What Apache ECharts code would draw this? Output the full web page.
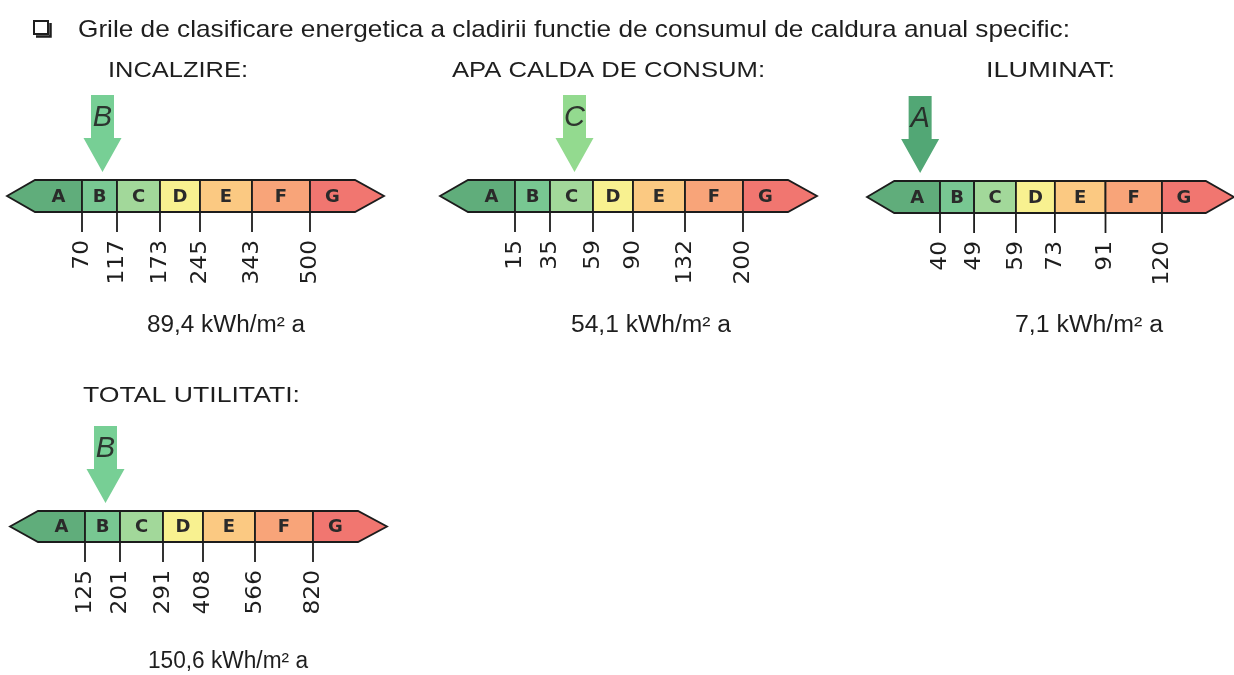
<!DOCTYPE html>
<html><head><meta charset="utf-8">
<script src="https://cdn.jsdelivr.net/npm/echarts@6/dist/echarts.min.js"></script>
<style>html,body{margin:0;padding:0;background:#fff}#c{width:1234px;height:675px}</style>
</head><body><div id="c"></div><script>
// ---------------- DATA ----------------
const heading = 'Grile de clasificare energetica a cladirii functie de consumul de caldura anual specific:';
const panelTitles = ['INCALZIRE:', 'APA CALDA DE CONSUM:', 'ILUMINAT:', 'TOTAL UTILITATI:'];
const classes = ['A', 'B', 'C', 'D', 'E', 'F', 'G'];
const thrIncalzire = [70, 117, 173, 245, 343, 500];
const thrApaCalda = [15, 35, 59, 90, 132, 200];
const thrIluminat = [40, 49, 59, 73, 91, 120];
const thrTotal = [125, 201, 291, 408, 566, 820];
const consumption = [89.4, 54.1, 7.1, 150.6];
const unitLabel = 'kWh/m² a';

// ---------------- LAYOUT / STYLE ----------------
const thresholds = [thrIncalzire, thrApaCalda, thrIluminat, thrTotal];
// positions along the bar (layout units = px): tip, head start, A|B ... F|G, tail start, tip
const BOUNDS = [0, 28, 75, 110, 153, 193, 245, 303, 348, 377];
const PANELS = [
  { left: 7,   top: 180, h: 32, title: [108, 248, 71], val: [147, 305, 326] },
  { left: 440, top: 180, h: 32, title: [452, 765, 71], val: [571, 731, 326] },
  { left: 867, top: 181, h: 32, title: [986, 1115, 71], val: [1015, 1163, 326] },
  { left: 10,  top: 511, h: 31, title: [83, 300, 396], val: [148, 308, 662] }
];
const segColors = ['#60ad7b', '#78c792', '#a2d89a', '#f8f190', '#fbc982', '#f8a479', '#f17670'];
const arrowColors = ['#52a775', '#77cf95', '#93da8f', '#f8f190', '#fbc982', '#f8a479', '#f17670'];
const LINE = '#1c1c1c';

const mctx = document.createElement('canvas').getContext('2d');
function fitText(text, x0, x1, y, font, color) {
  mctx.font = font;
  const w = mctx.measureText(text).width;
  return {
    type: 'text', x: x0, y: y, scaleX: (x1 - x0) / w, silent: true,
    style: { text: text, font: font, fill: color, align: 'left', textAlign: 'left', verticalAlign: 'middle', textVerticalAlign: 'middle' }
  };
}
function fmt(v) { return String(v).replace('.', ','); }
function classOf(pi) {
  const t = thresholds[pi];
  const v = consumption[pi];
  let idx = t.findIndex(x => v <= x);
  return idx < 0 ? classes.length - 1 : idx;
}

function segRender(pi) {
  return function (params, api) {
    const i = api.value(0);
    const P = (u, v) => api.coord([u, v]);
    const xl = BOUNDS[i + 1], xr = BOUNDS[i + 2];
    let pts;
    if (i === 0) {
      pts = [P(BOUNDS[0], 0.5), P(xl, 1), P(xr, 1), P(xr, 0), P(xl, 0)];
    } else if (i === classes.length - 1) {
      pts = [P(xl, 1), P(BOUNDS[8], 1), P(BOUNDS[9], 0.5), P(BOUNDS[8], 0), P(xl, 0)];
    } else {
      pts = [P(xl, 1), P(xr, 1), P(xr, 0), P(xl, 0)];
    }
    const children = [{
      type: 'polygon', shape: { points: pts },
      style: { fill: segColors[i], stroke: LINE, lineWidth: 1.8 }
    }];
    const c = P((xl + xr) / 2, 0.5);
    children.push({
      type: 'text', x: c[0], y: c[1] + 1,
      style: { text: classes[i], font: 'bold 18px "DejaVu Sans"', fill: '#2a2a2a',
        align: 'center', textAlign: 'center', verticalAlign: 'middle', textVerticalAlign: 'middle' }
    });
    if (i < classes.length - 1) {
      const b = P(xr, 0);
      children.push({
        type: 'line', shape: { x1: b[0], y1: b[1], x2: b[0], y2: b[1] + 20 },
        style: { stroke: LINE, lineWidth: 1.8 }
      });
      children.push({
        type: 'text', x: b[0], y: b[1] + 28, rotation: Math.PI / 2, scaleX: 1.06,
        style: { text: String(thresholds[pi][i]), font: '22px "DejaVu Sans"', fill: '#1e1e1e',
          align: 'right', textAlign: 'right', verticalAlign: 'middle', textVerticalAlign: 'middle' }
      });
    }
    return { type: 'group', children: children };
  };
}

function arrowRender(pi) {
  return function (params, api) {
    const cls = classOf(pi);
    const top = api.coord([(BOUNDS[cls + 1] + BOUNDS[cls + 2]) / 2, 1]);
    const cx = top[0] + 3;
    const tipY = top[1] - 8;
    const headTop = tipY - 34;
    const bodyTop = headTop - 43;
    return {
      type: 'group', children: [
        {
          type: 'polygon',
          shape: { points: [[cx - 11.5, bodyTop], [cx + 11.5, bodyTop], [cx + 11.5, headTop], [cx + 19, headTop],
            [cx, tipY], [cx - 19, headTop], [cx - 11.5, headTop]] },
          style: { fill: arrowColors[cls] }
        },
        {
          type: 'text', x: cx, y: bodyTop + 23,
          style: { text: classes[cls], font: 'italic 29px "Liberation Sans"', fill: 'rgba(35,35,35,0.9)',
            align: 'center', textAlign: 'center', verticalAlign: 'middle', textVerticalAlign: 'middle' }
        }
      ]
    };
  };
}

const grids = [], xAxes = [], yAxes = [], series = [];
const graphics = [];
// checkbox symbol
graphics.push({ type: 'rect', shape: { x: 34, y: 21, width: 14, height: 13 }, style: { fill: '#fff', stroke: '#1e1e1e', lineWidth: 2 } });
graphics.push({ type: 'polyline', shape: { points: [[36, 36.5], [50.5, 36.5], [50.5, 23]] }, style: { fill: 'none', stroke: '#1e1e1e', lineWidth: 2.5 } });
graphics.push(fitText(heading, 78, 1070, 30, '24px "Liberation Sans"', '#1e1e1e'));

PANELS.forEach((p, pi) => {
  grids.push({ left: p.left, top: p.top, width: BOUNDS[BOUNDS.length - 1], height: p.h, containLabel: false });
  xAxes.push({ type: 'value', gridIndex: pi, min: 0, max: BOUNDS[BOUNDS.length - 1], show: false });
  yAxes.push({ type: 'value', gridIndex: pi, min: 0, max: 1, show: false });
  series.push({
    type: 'custom', xAxisIndex: pi, yAxisIndex: pi, silent: true, clip: false,
    data: classes.map((c, i) => [i]), renderItem: segRender(pi), z: 2
  });
  series.push({
    type: 'custom', xAxisIndex: pi, yAxisIndex: pi, silent: true, clip: false,
    data: [[consumption[pi]]], renderItem: arrowRender(pi), z: 3
  });
  graphics.push(fitText(panelTitles[pi], p.title[0], p.title[1], p.title[2], '22px "Liberation Sans"', '#1e1e1e'));
  graphics.push(fitText(fmt(consumption[pi]) + ' ' + unitLabel, p.val[0], p.val[1], p.val[2], '23px "Liberation Sans"', '#1e1e1e'));
});

const chart = echarts.init(document.getElementById('c'), null, { renderer: 'canvas' });
chart.setOption({
  backgroundColor: '#ffffff',
  animation: false,
  grid: grids, xAxis: xAxes, yAxis: yAxes, series: series,
  graphic: { elements: graphics }
});
</script></body></html>
